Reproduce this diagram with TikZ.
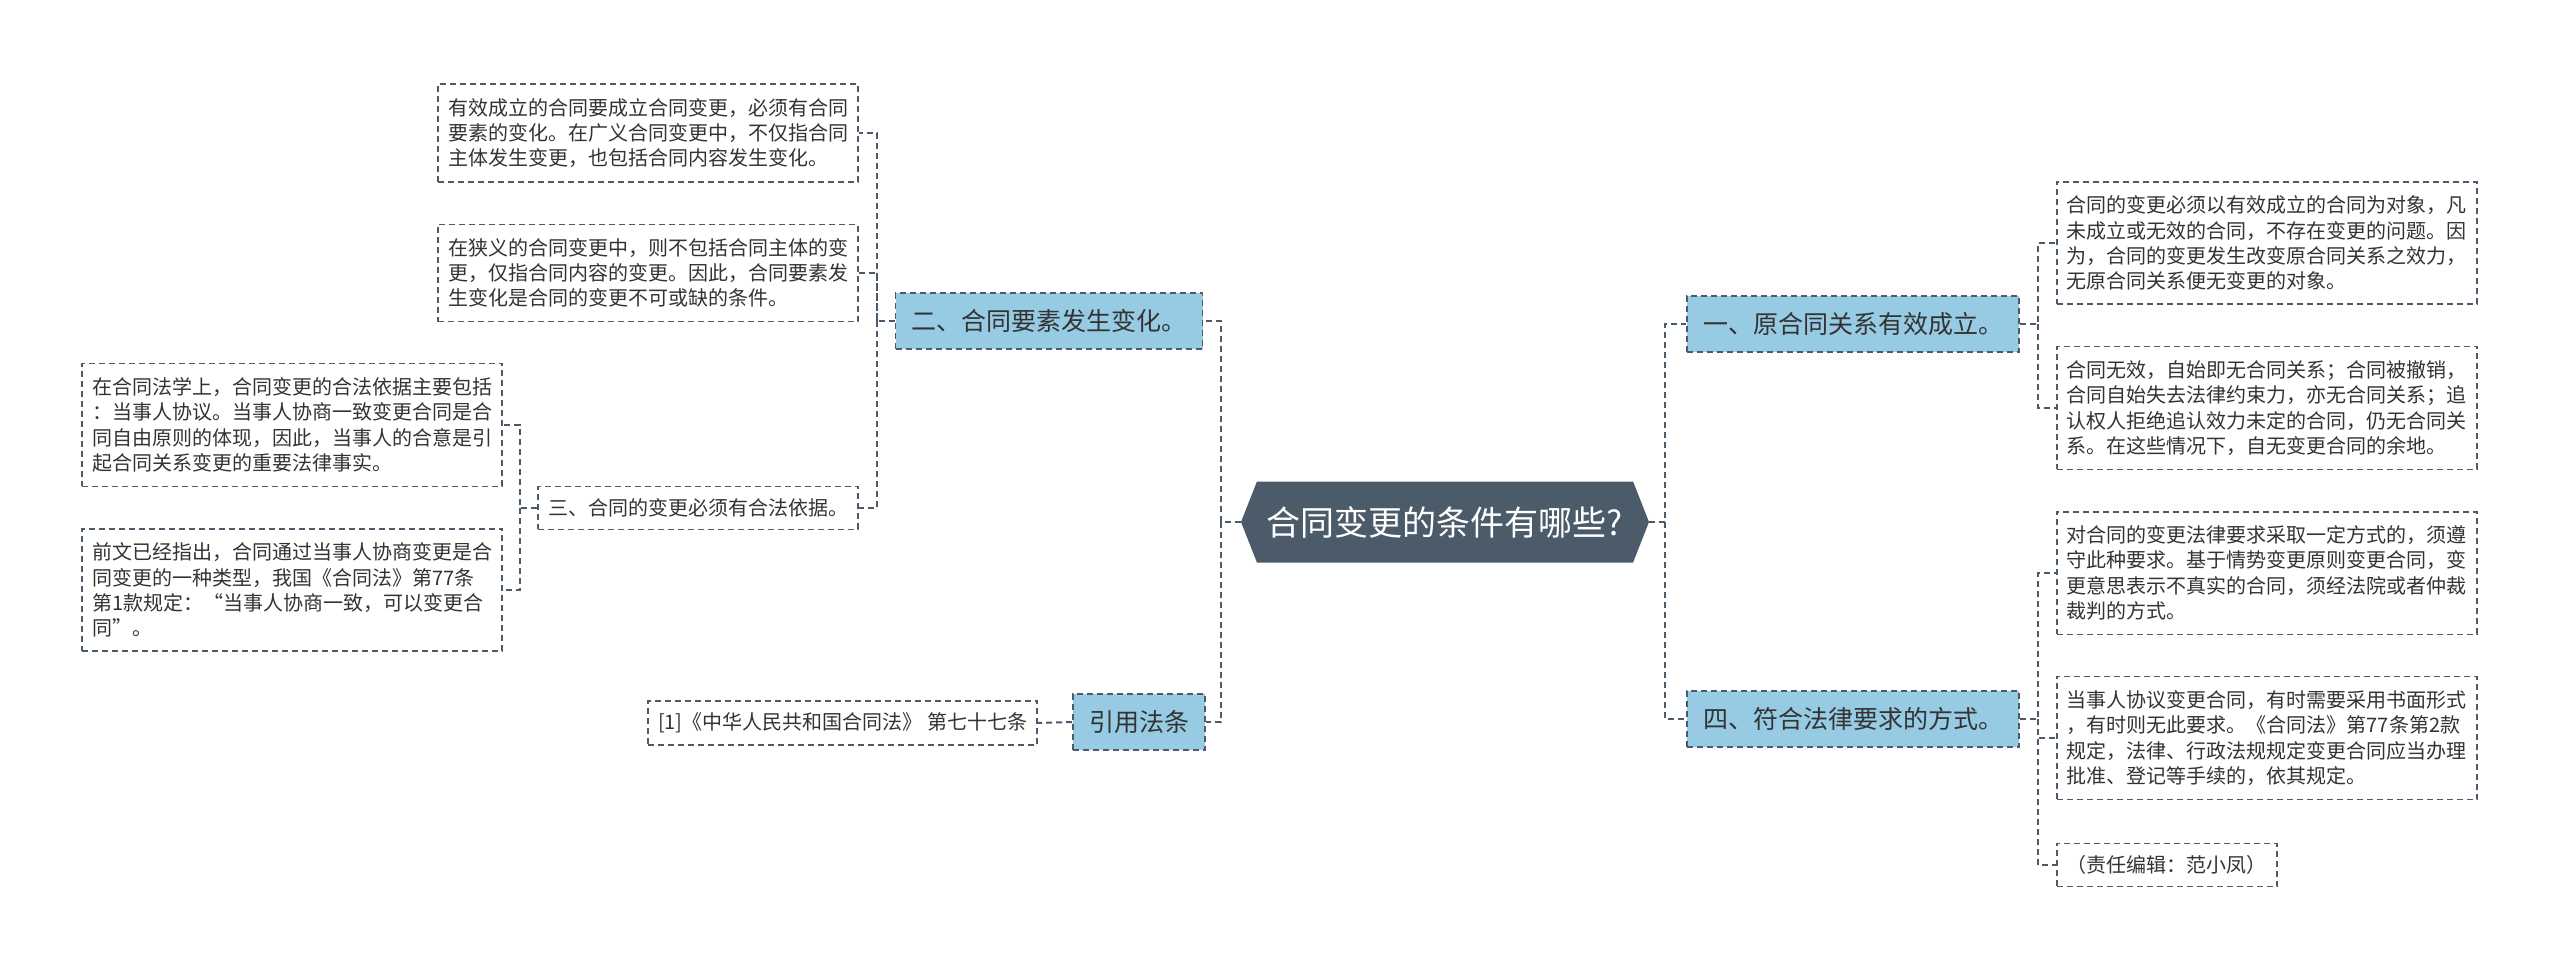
\documentclass[tikz,border=0pt]{standalone}
\usepackage{fontspec}
\setmainfont{Noto Sans CJK SC}
\usetikzlibrary{shapes.symbols}

\definecolor{rootc}{HTML}{4B5B6A}
\definecolor{topicc}{HTML}{96CBE3}
\definecolor{linec}{HTML}{4B5B6A}
\definecolor{textc}{HTML}{333333}

\begin{document}
\begin{tikzpicture}[x=1pt, y=-1pt,
  dashline/.style={draw=linec, line width=1.6pt, dash pattern=on 6pt off 4pt},
  root/.style={shape=signal, signal to=west and east, signal pointer angle=137,
    fill=rootc, text=white, font=\fontsize{34}{40}\selectfont,
    minimum width=408pt, minimum height=81pt, inner sep=0pt},
  topic/.style={dashline, fill=topicc, text=textc, font=\fontsize{25}{30}\selectfont,
    inner xsep=16pt, inner ysep=0pt, minimum height=56pt},
  leaf/.style={dashline, text=textc, font=\fontsize{20}{25.3}\selectfont,
    text width=400pt, align=left, inner xsep=10pt, inner ysep=14pt},
  tag/.style={dashline, text=textc, font=\fontsize{20}{25.3}\selectfont,
    inner xsep=10pt, inner ysep=12pt},
  link/.style={dashline, line width=2pt}]
  \useasboundingbox[fill=white] (0,0) rectangle (2560,973);

  % elbows of the connectors
  \coordinate (lt)  at (1221, 522);
  \coordinate (rt)  at (1665, 522);
  \coordinate (erv) at (877, 321);
  \coordinate (sav) at (520, 508);
  \coordinate (yiv) at (2038, 324);
  \coordinate (siv) at (2038, 719);

  \node[root] (root) at (1445, 522) {合同变更的条件有哪些?};

  % right half
  \node[topic] (yi) at (1853, 324) {一、原合同关系有效成立。};
  \node[topic] (si) at (1853, 719) {四、符合法律要求的方式。};
  \node[leaf, anchor=west] (r1) at (2056, 243) {合同的变更必须以有效成立的合同为对象，凡\\未成立或无效的合同，不存在变更的问题。因\\为，合同的变更发生改变原合同关系之效力，\\无原合同关系便无变更的对象。};
  \node[leaf, anchor=west] (r2) at (2056, 408) {合同无效，自始即无合同关系；合同被撤销，\\合同自始失去法律约束力，亦无合同关系；追\\认权人拒绝追认效力未定的合同，仍无合同关\\系。在这些情况下，自无变更合同的余地。};
  \node[leaf, anchor=west] (r3) at (2056, 573) {对合同的变更法律要求采取一定方式的，须遵\\守此种要求。基于情势变更原则变更合同，变\\更意思表示不真实的合同，须经法院或者仲裁\\裁判的方式。};
  \node[leaf, anchor=west] (r4) at (2056, 738) {当事人协议变更合同，有时需要采用书面形式\\，有时则无此要求。《合同法》第77条第2款\\规定，法律、行政法规规定变更合同应当办理\\批准、登记等手续的，依其规定。};
  \node[tag, anchor=west] (r5) at (2056, 865) {（责任编辑：范小凤）};

  % left half
  \node[topic] (er) at (1049, 321) {二、合同要素发生变化。};
  \node[topic] (yy) at (1139, 722) {引用法条};
  \node[leaf, anchor=east] (la) at (859, 133) {有效成立的合同要成立合同变更，必须有合同\\要素的变化。在广义合同变更中，不仅指合同\\主体发生变更，也包括合同内容发生变化。};
  \node[leaf, anchor=east] (lb) at (859, 273) {在狭义的合同变更中，则不包括合同主体的变\\更，仅指合同内容的变更。因此，合同要素发\\生变化是合同的变更不可或缺的条件。};
  \node[tag, anchor=east] (san) at (859, 508) {三、合同的变更必须有合法依据。};
  \node[leaf, anchor=east] (lc) at (503, 425) {在合同法学上，合同变更的合法依据主要包括\\：当事人协议。当事人协商一致变更合同是合\\同自由原则的体现，因此，当事人的合意是引\\起合同关系变更的重要法律事实。};
  \node[leaf, anchor=east] (ld) at (503, 590) {前文已经指出，合同通过当事人协商变更是合\\同变更的一种类型，我国《合同法》第77条\\第1款规定：“当事人协商一致，可以变更合\\同”。};
  \node[tag, anchor=east] (cite) at (1038, 723) {[1]《中华人民共和国合同法》 第七十七条};

  % connectors
  \draw[link] (root.west) -- (lt) |- (er.east);
  \draw[link] (lt) |- (yy.east);
  \draw[link] (root.east) -- (rt) |- (yi.west);
  \draw[link] (rt) |- (si.west);
  \draw[link] (yi.east) -- (yiv) |- (r1.west);
  \draw[link] (yiv) |- (r2.west);
  \draw[link] (si.east) -- (siv) |- (r3.west);
  \draw[link] (siv) |- (r4.west);
  \draw[link] (siv) |- (r5.west);
  \draw[link] (er.west) -- (erv) |- (la.east);
  \draw[link] (erv) |- (lb.east);
  \draw[link] (erv) |- (san.east);
  \draw[link] (san.west) -- (sav) |- (lc.east);
  \draw[link] (sav) |- (ld.east);
  \draw[link] (yy.west) -- (cite.east);
\end{tikzpicture}
\end{document}
